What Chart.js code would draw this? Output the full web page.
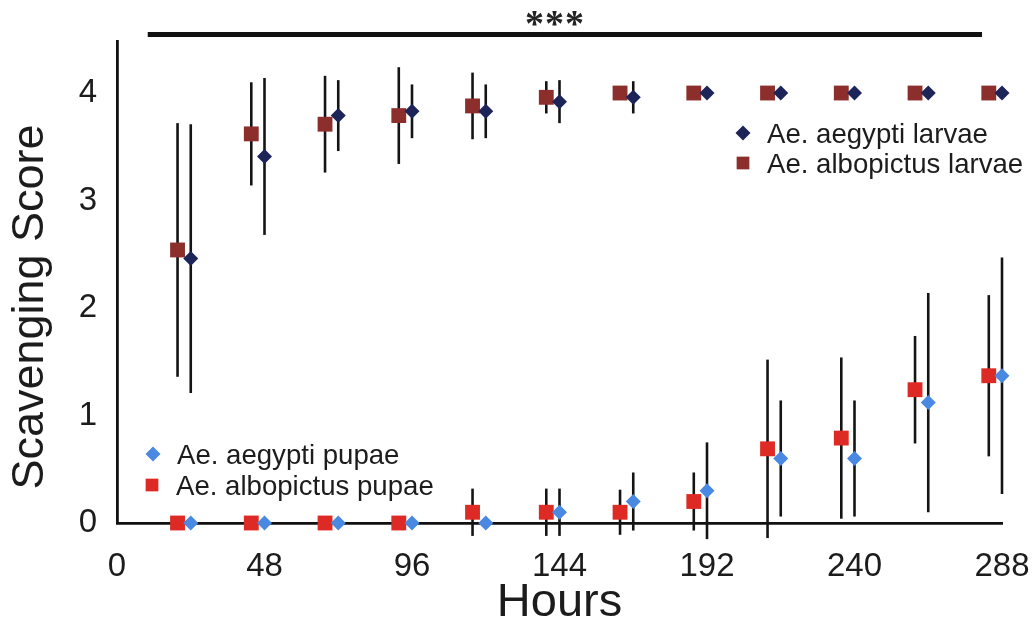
<!DOCTYPE html>
<html>
<head>
<meta charset="utf-8">
<script src="https://cdn.jsdelivr.net/npm/chart.js@4.4.1/dist/chart.umd.min.js"></script>
<style>
  html, body { margin: 0; padding: 0; background: #fff; }
  #wrap { width: 1035px; height: 627px; position: relative; }
</style>
</head>
<body>
<div id="wrap"><canvas id="chart"></canvas></div>
<script>
// sampling times (hours)
const hours = [24, 48, 72, 96, 120, 144, 168, 192, 216, 240, 264, 288];
const yTicks = [0, 1, 2, 3, 4];

// larvae: mean score and error (+/-)
const aegyptiLarvae       = [2.46, 3.41, 3.79, 3.83, 3.83, 3.92, 3.96, 4, 4, 4, 4, 4];
const aegyptiLarvaeErr    = [1.25, 0.73, 0.33, 0.25, 0.25, 0.2, 0.15, 0, 0, 0, 0, 0];
const albopictusLarvae    = [2.54, 3.62, 3.71, 3.79, 3.88, 3.96, 4, 4, 4, 4, 4, 4];
const albopictusLarvaeErr = [1.18, 0.48, 0.45, 0.45, 0.31, 0.15, 0, 0, 0, 0, 0, 0];

// pupae
const aegyptiPupae       = [0, 0, 0, 0, 0, 0.1, 0.2, 0.3, 0.6, 0.6, 1.12, 1.37];
const aegyptiPupaeErr    = [0, 0, 0, 0, 0, 0.22, 0.27, 0.45, 0.54, 0.54, 1.02, 1.1];
const albopictusPupae    = [0, 0, 0, 0, 0.1, 0.1, 0.1, 0.2, 0.69, 0.79, 1.24, 1.37];
const albopictusPupaeErr = [0, 0, 0, 0, 0.22, 0.22, 0.21, 0.27, 0.83, 0.75, 0.5, 0.75];

// albopictus markers are nudged left of the sampling time so they don't overlap
const albShift = -4.3;
// significance bar spans (hours)
const sigFrom = 10, sigTo = 281.5;

const FONT = '"Liberation Sans", Arial, sans-serif';
const colors = {
    aegLarvae: '#1d2558',
    albLarvae: '#8c2e2b',
    aegPupae: '#4a89e2',
    albPupae: '#de2a24'
};

const toPoints = (ys, shift) => hours.map((h, i) => ({ x: h + shift, y: ys[i] }));

function series(label, ys, errs, shift, color, style, r) {
    return {
        label: label,
        data: toPoints(ys, shift),
        errors: errs,
        pointStyle: style,
        pointRadius: r,
        backgroundColor: color,
        borderColor: color,
        borderWidth: 0,
        showLine: false,
        clip: false
    };
}

// vertical error lines, drawn under the markers
const errorBars = {
    id: 'errorBars',
    beforeDatasetsDraw(chart) {
        const ctx = chart.ctx, y = chart.scales.y;
        ctx.save();
        ctx.strokeStyle = '#141414';
        ctx.lineWidth = 2.6;
        chart.data.datasets.forEach((ds, di) => {
            const meta = chart.getDatasetMeta(di);
            ds.errors.forEach((e, i) => {
                if (!e) return;
                const px = meta.data[i].x;
                const v = ds.data[i].y;
                ctx.beginPath();
                ctx.moveTo(px, y.getPixelForValue(v + e));
                ctx.lineTo(px, y.getPixelForValue(v - e));
                ctx.stroke();
            });
        });
        ctx.restore();
    }
};

// legends, significance bar and y title
const decorations = {
    id: 'decorations',
    afterDraw(chart) {
        const ctx = chart.ctx, x = chart.scales.x, y = chart.scales.y;
        ctx.save();

        // *** bar
        const barY = y.getPixelForValue(4.545);
        ctx.strokeStyle = '#111';
        ctx.lineWidth = 5;
        ctx.beginPath();
        ctx.moveTo(x.getPixelForValue(sigFrom), barY);
        ctx.lineTo(x.getPixelForValue(sigTo), barY);
        ctx.stroke();
        ctx.fillStyle = '#222';
        ctx.font = 'bold 38px "Liberation Serif", serif';
        ctx.letterSpacing = '1px';
        ctx.textAlign = 'center';
        ctx.textBaseline = 'alphabetic';
        ctx.fillText('***', 555, 36);
        ctx.letterSpacing = '0px';

        // legends
        function entry(px, py, style, r, color, text) {
            ctx.fillStyle = color;
            Chart.helpers.drawPoint(ctx, { pointStyle: style, radius: r, borderWidth: 0 }, px, py);
            ctx.fillStyle = '#1c1c1c';
            ctx.font = '27.6px ' + FONT;
            ctx.textAlign = 'left';
            ctx.textBaseline = 'alphabetic';
            ctx.fillText(text, px + 24, py + 9.5);
        }
        entry(743, 133, 'rectRot', 7.5, colors.aegLarvae, 'Ae. aegypti larvae');
        entry(743, 163, 'rect', 9, colors.albLarvae, 'Ae. albopictus larvae');
        entry(153, 454, 'rectRot', 7.5, colors.aegPupae, 'Ae. aegypti pupae');
        entry(152, 485, 'rect', 9, colors.albPupae, 'Ae. albopictus pupae');

        // y axis title
        ctx.translate(31, 307);
        ctx.rotate(-Math.PI / 2);
        ctx.fillStyle = '#1c1c1c';
        ctx.font = '45px ' + FONT;
        ctx.textAlign = 'center';
        ctx.textBaseline = 'middle';
        ctx.fillText('Scavenging Score', 0, 0);
        ctx.restore();
    }
};

const whiteBg = {
    id: 'whiteBg',
    beforeDraw(chart) {
        const ctx = chart.ctx;
        ctx.save();
        ctx.fillStyle = '#fff';
        ctx.fillRect(0, 0, chart.width, chart.height);
        ctx.restore();
    }
};

new Chart(document.getElementById('chart'), {
    type: 'scatter',
    data: {
        datasets: [
            series('Ae. aegypti larvae', aegyptiLarvae, aegyptiLarvaeErr, 0, colors.aegLarvae, 'rectRot', 7.5),
            series('Ae. albopictus larvae', albopictusLarvae, albopictusLarvaeErr, albShift, colors.albLarvae, 'rect', 10.5),
            series('Ae. aegypti pupae', aegyptiPupae, aegyptiPupaeErr, 0, colors.aegPupae, 'rectRot', 7.5),
            series('Ae. albopictus pupae', albopictusPupae, albopictusPupaeErr, albShift, colors.albPupae, 'rect', 10.5)
        ]
    },
    options: {
        responsive: true,
        maintainAspectRatio: false,
        animation: false,
        events: [],
        layout: {
            padding: { top: 41, right: 33, left: 0, bottom: 0 }
        },
        plugins: {
            legend: { display: false },
            tooltip: { enabled: false }
        },
        scales: {
            x: {
                type: 'linear',
                min: 0,
                max: 288,
                grid: { display: false, drawTicks: false },
                border: { display: true, color: '#111', width: 2.8 },
                ticks: { stepSize: 48, color: '#1c1c1c', font: { family: FONT, size: 33 }, padding: 24, maxRotation: 0 },
                title: { display: true, text: 'Hours', color: '#1c1c1c', font: { family: FONT, size: 47, lineHeight: 1 }, padding: 0 },
                afterFit(scale) {
                    scale.height = 104;
                    scale.paddingLeft = 0;
                    scale.paddingRight = 0;
                }
            },
            y: {
                min: 0,
                max: 4.484,
                grid: { display: false, drawTicks: false },
                border: { display: true, color: '#111', width: 2.8 },
                ticks: { color: '#1c1c1c', font: { family: FONT, size: 33 }, padding: 20 },
                afterBuildTicks(scale) { scale.ticks = yTicks.map(v => ({ value: v })); },
                afterFit(scale) { scale.width = 117; }
            }
        }
    },
    plugins: [whiteBg, errorBars, decorations]
});
</script>
</body>
</html>
